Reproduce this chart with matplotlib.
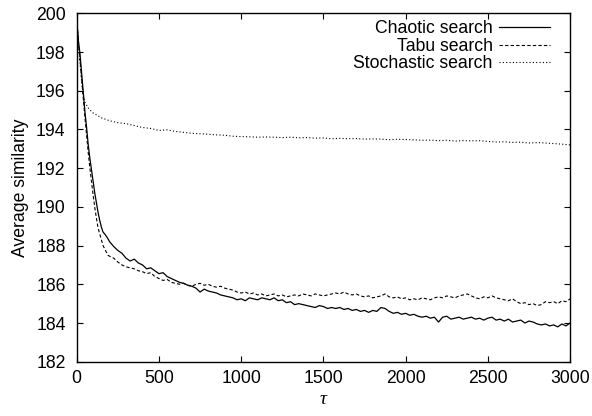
import numpy as np
import matplotlib
matplotlib.use('Agg')
import matplotlib.pyplot as plt

# values
tau_early = [0, 10, 20, 30, 40, 50, 60, 70, 80, 90, 100, 110, 120, 130, 140, 150,
             160, 175, 190, 200, 225, 250, 275]
tau_late = list(range(300, 3001, 25))

chaotic_early = [199.7, 198.6, 197.9, 196.9, 195.9, 194.9, 194.1, 193.2, 192.5, 191.9,
                 191.3, 190.7, 190.2, 189.7, 189.3, 188.95, 188.7, 188.55, 188.35, 188.2,
                 187.95, 187.75, 187.6]
chaotic_late = [187.35, 187.2, 187.3, 187.1, 187.0, 186.8, 186.85, 186.7, 186.55, 186.6,
                186.4, 186.3, 186.2, 186.1, 186.05, 185.95, 185.9, 185.8, 185.6, 185.75,
                185.65, 185.6, 185.55, 185.45, 185.4, 185.35, 185.3, 185.2, 185.25, 185.15,
                185.3, 185.25, 185.2, 185.3, 185.25, 185.2, 185.3, 185.15, 185.2, 185.05,
                185.1, 184.95, 185.0, 184.95, 184.9, 184.85, 184.8, 184.9, 184.85, 184.75,
                184.8, 184.75, 184.8, 184.7, 184.75, 184.65, 184.7, 184.6, 184.65, 184.55,
                184.65, 184.6, 184.8, 184.75, 184.6, 184.5, 184.55, 184.45, 184.5, 184.4,
                184.45, 184.35, 184.3, 184.35, 184.25, 184.3, 184.05, 184.3, 184.35, 184.2,
                184.25, 184.3, 184.2, 184.25, 184.3, 184.2, 184.25, 184.15, 184.25, 184.3,
                184.15, 184.2, 184.1, 184.2, 184.05, 184.1, 184.15, 184.0, 184.1, 184.05,
                183.95, 183.9, 183.95, 183.85, 183.9, 183.8, 183.95, 183.85, 184.0]

tabu_early = [199.7, 198.5, 197.6, 196.6, 195.6, 194.6, 193.7, 192.8, 192.0, 191.3,
              190.6, 189.95, 189.4, 188.9, 188.6, 188.3, 188.0, 187.75, 187.5, 187.45,
              187.35, 187.15, 187.0]
tabu_late = [186.9, 186.85, 186.8, 186.7, 186.65, 186.55, 186.6, 186.4, 186.3, 186.2,
             186.25, 186.1, 186.05, 186.0, 186.05, 185.95, 185.9, 186.0, 186.05, 185.95,
             186.0, 185.9, 185.85, 185.9, 185.8, 185.75, 185.7, 185.6, 185.55, 185.6,
             185.5, 185.55, 185.45, 185.5, 185.4, 185.45, 185.5, 185.4, 185.45, 185.35,
             185.4, 185.45, 185.4, 185.5, 185.45, 185.4, 185.5, 185.45, 185.4, 185.45,
             185.5, 185.55, 185.5, 185.6, 185.5, 185.45, 185.5, 185.4, 185.35, 185.4,
             185.3, 185.35, 185.4, 185.5, 185.35, 185.3, 185.35, 185.25, 185.3, 185.2,
             185.25, 185.2, 185.3, 185.25, 185.2, 185.3, 185.35, 185.3, 185.4, 185.35,
             185.3, 185.4, 185.45, 185.5, 185.4, 185.3, 185.25, 185.35, 185.3, 185.4,
             185.3, 185.25, 185.2, 185.15, 185.25, 185.1, 185.0, 185.05, 184.95, 185.0,
             184.9, 184.95, 185.1, 185.05, 185.1, 185.0, 185.15, 185.1, 185.25]

tau_stoch = [0, 10, 20, 30, 40, 50, 75, 100] + list(range(150, 3001, 50))
stochastic = [199.7, 198.5, 197.4, 196.5, 195.8, 195.4, 195.05, 194.85,
              194.6, 194.45, 194.35, 194.3, 194.2, 194.1, 194.05, 193.95, 193.98, 193.9,
              193.85, 193.8, 193.78, 193.75, 193.72, 193.7, 193.65, 193.63,
              193.62, 193.6, 193.61, 193.6, 193.58, 193.6, 193.57, 193.58, 193.55, 193.56,
              193.52, 193.54, 193.52, 193.53, 193.5, 193.51, 193.5, 193.47, 193.49, 193.48,
              193.46, 193.44, 193.45, 193.42, 193.44, 193.4, 193.42, 193.41, 193.42, 193.38,
              193.35, 193.36, 193.33, 193.34, 193.3, 193.32, 193.3, 193.27, 193.24, 193.2]

tau_cs = tau_early + tau_late
chaotic = chaotic_early + chaotic_late
tabu = tabu_early + tabu_late

plt.rcParams['font.family'] = ['Liberation Sans', 'DejaVu Sans']
fs = 12.7

fig = plt.figure(figsize=(5.92, 4.16), dpi=100)
ax = fig.add_axes([0.1296, 0.1305, 0.8334, 0.8375])

ax.plot(tau_cs, chaotic, color='black', lw=0.9, ls='-', label='Chaotic search')
ax.plot(tau_cs, tabu, color='black', lw=0.8, ls=(0, (3, 2)), label='Tabu search')
ax.plot(tau_stoch, stochastic, color='black', lw=0.8, ls=(0, (1, 2)), label='Stochastic search')

ax.set_xlim(0, 3000)
ax.set_ylim(182, 200)
ax.set_xticks(np.arange(0, 3001, 500))
ax.set_yticks(np.arange(182, 201, 2))
ax.tick_params(direction='in', top=True, right=True, length=4, width=0.8,
               labelsize=fs)
ax.tick_params(axis='x', pad=6)
ax.tick_params(axis='y', pad=8)
for s in ax.spines.values():
    s.set_linewidth(1.0)

ax.set_ylabel('Average similarity', fontsize=fs, labelpad=5)
ax.set_xlabel('τ', fontsize=14, family='Liberation Serif', style='italic', labelpad=3)

ax.legend(loc='upper right', bbox_to_anchor=(0.9595, 0.980), frameon=False,
          markerfirst=False, fontsize=fs, handlelength=2.9, handletextpad=0.35,
          labelspacing=0.03, borderpad=0, borderaxespad=0)

fig.savefig('out.png', dpi=100)
